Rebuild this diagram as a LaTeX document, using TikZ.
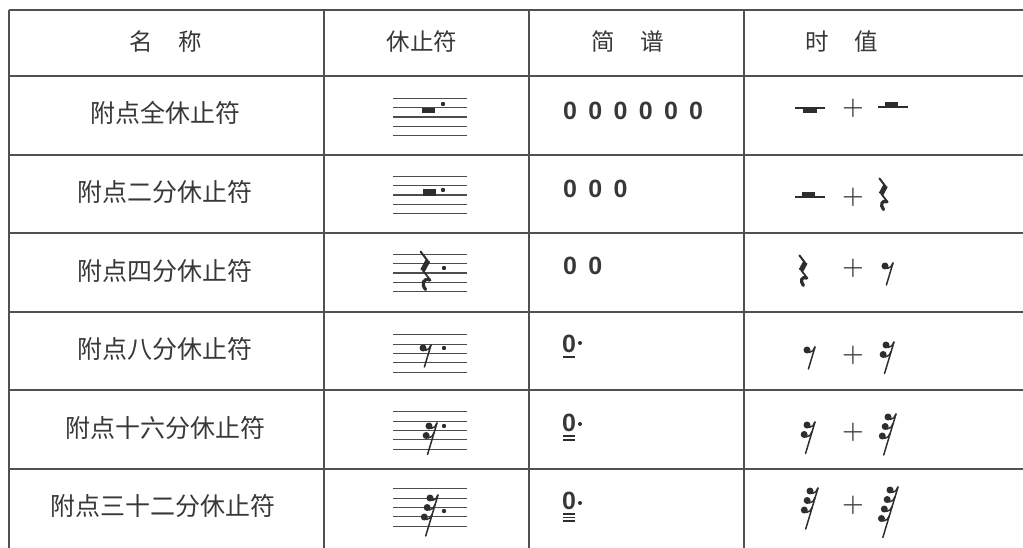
\documentclass[tikz,border=0pt]{standalone}
\usepackage{fontspec}
\setmainfont{Liberation Sans}
\newfontfamily\cjk{Noto Sans CJK SC}
\definecolor{textcol}{HTML}{383838}
\definecolor{linecol}{HTML}{505050}
\definecolor{inkcol}{HTML}{2E2E2E}
\newcommand{\staffat}[1]{%
  \foreach \k in {-2,...,2}{\draw[staffline] (393,{#1+9.3*\k}) -- (467,{#1+9.3*\k});}}
\newcommand{\flagrest}[3]{%
  \pgfmathsetmacro\rlen{9.5*(#3-1)+22}%
  \draw[restline] (#1,#2) -- ({#1-0.3*\rlen},{#2+\rlen});
  \foreach \k in {1,...,#3}{%
    \pgfmathsetmacro\sy{#2+9.5*(\k-1)}%
    \pgfmathsetmacro\sx{#1-0.3*9.5*(\k-1)}%
    \fill[inkcol] (\sx-8,\sy+3) circle (3.5);
    \draw[restline] (\sx-6,\sy+5.5) .. controls (\sx-3,\sy+5.5) and (\sx-1,\sy+3) .. (\sx,\sy);}}
\newcommand{\qrest}[3]{%
  \begin{scope}[shift={(#1,#2)},scale=#3]
    \draw[inkcol,line width=2pt,line cap=round] (0.5,0.5) -- (7,9);
    \draw[inkcol,line width=5pt] (7.3,8.6) -- (2.3,17.8);
    \draw[inkcol,line width=1.8pt,line cap=round] (2.5,17.5) -- (9,26);
    \draw[inkcol,line width=3.2pt,line cap=round] (9,26.5) .. controls (3,24) and (1,30) .. (5,35);
  \end{scope}}
\begin{document}
\begin{tikzpicture}[x=1pt,y=-1pt,
  grid/.style={line width=1.8pt,draw=linecol},
  staffline/.style={line width=1.15pt,draw=inkcol!85},
  restline/.style={line width=1.5pt,draw=inkcol,line cap=round},
  head/.style={font=\cjk\fontsize{23.5}{23.5}\selectfont,text=textcol,inner sep=0pt},
  rowname/.style={font=\cjk\fontsize{25}{25}\selectfont,text=textcol,inner sep=0pt},
  jp/.style={font=\bfseries\fontsize{25}{25}\selectfont,text=textcol,anchor=west,inner sep=0pt},
  plus/.style={font=\fontsize{29}{29}\selectfont\boldmath,text=inkcol!90,inner sep=0pt},
  dotmark/.style={fill=inkcol}]
\useasboundingbox (0,0) rectangle (1023,548);
\fill[white] (0,0) rectangle (1023,548);
% grid
\foreach \y in {10,76,155,233,312,390,469}{\draw[grid] (9,\y) -- (1023,\y);}
\foreach \x in {9,324,529,744}{\draw[grid] (\x,10) -- (\x,548);}
% header
\node[head] (h1) at (166,42) {名\hspace{1.1em}称};
\node[head] (h2) at (422,42) {休止符};
\node[head] (h3) at (628,42) {简\hspace{1.1em}谱};
\node[head] (h4) at (842,42) {时\hspace{1.1em}值};
% names
\node[rowname] (n1) at (165,113) {附点全休止符};
\node[rowname] (n2) at (165,192) {附点二分休止符};
\node[rowname] (n3) at (165,271) {附点四分休止符};
\node[rowname] (n4) at (165,349) {附点八分休止符};
\node[rowname] (n5) at (165,428) {附点十六分休止符};
\node[rowname] (n6) at (163,506) {附点三十二分休止符};
% rest column
\staffat{117}
\fill[inkcol] (422,107.7) rectangle (435,113.5);
\fill[dotmark] (443,104) circle (2.2);
\staffat{195}
\fill[inkcol] (423,189.5) rectangle (436,195.7);
\fill[dotmark] (443,190) circle (2.2);
\staffat{273}
\qrest{420}{251}{1.1}
\fill[dotmark] (444,268) circle (2.2);
\staffat{353.5}
\flagrest{431}{345}{1}
\fill[dotmark] (444,348) circle (2.2);
\staffat{430.5}
\flagrest{437}{423}{2}
\fill[dotmark] (444,426) circle (2.2);
\staffat{507.5}
\flagrest{438}{495}{3}
\fill[dotmark] (444,511) circle (2.2);
% jianpu column
\node[jp] (j1) at (563,111) {0\hskip11.3pt 0\hskip11.3pt 0\hskip11.3pt 0\hskip11.3pt 0\hskip11.3pt 0};
\node[jp] (j2) at (563,189) {0\hskip11.3pt 0\hskip11.3pt 0};
\node[jp] (j3) at (563,266) {0\hskip11.3pt 0};
\node[jp] (j4) at (562,344) {0};
\draw[inkcol,line width=1.3pt] (563,357) -- (575,357);
\fill[dotmark] (580,343) circle (2);
\node[jp] (j5) at (562,423) {0};
\draw[inkcol,line width=1.3pt] (563,436) -- (575,436) (563,440) -- (575,440);
\fill[dotmark] (580,424) circle (2);
\node[jp] (j6) at (562,501) {0};
\draw[inkcol,line width=1.2pt] (563,514) -- (575,514) (563,517.5) -- (575,517.5) (563,521) -- (575,521);
\fill[dotmark] (580,503) circle (2);
% time value column
\draw[restline,line cap=butt] (795,108) -- (825,108);
\fill[inkcol] (803,108) rectangle (817,113.5);
\node[plus] (p1) at (853,108) {$+$};
\draw[restline,line cap=butt] (878,107) -- (908,107);
\fill[inkcol] (885,102) rectangle (898,107);
\draw[restline,line cap=butt] (795,197) -- (825,197);
\fill[inkcol] (802,192) rectangle (815,197);
\node[plus] (p2) at (853,197) {$+$};
\qrest{879}{178}{0.9}
\qrest{799}{255}{0.87}
\node[plus] (p3) at (853,268) {$+$};
\flagrest{893}{263}{1}
\flagrest{815}{347}{1}
\node[plus] (p4) at (853,355) {$+$};
\flagrest{894}{342}{2}
\flagrest{815}{422}{2}
\node[plus] (p5) at (853,432) {$+$};
\flagrest{896}{414}{3}
\node[plus] (p6) at (853,505) {$+$};
\flagrest{818}{488}{3}
\flagrest{898}{487}{4}
\end{tikzpicture}
\end{document}
